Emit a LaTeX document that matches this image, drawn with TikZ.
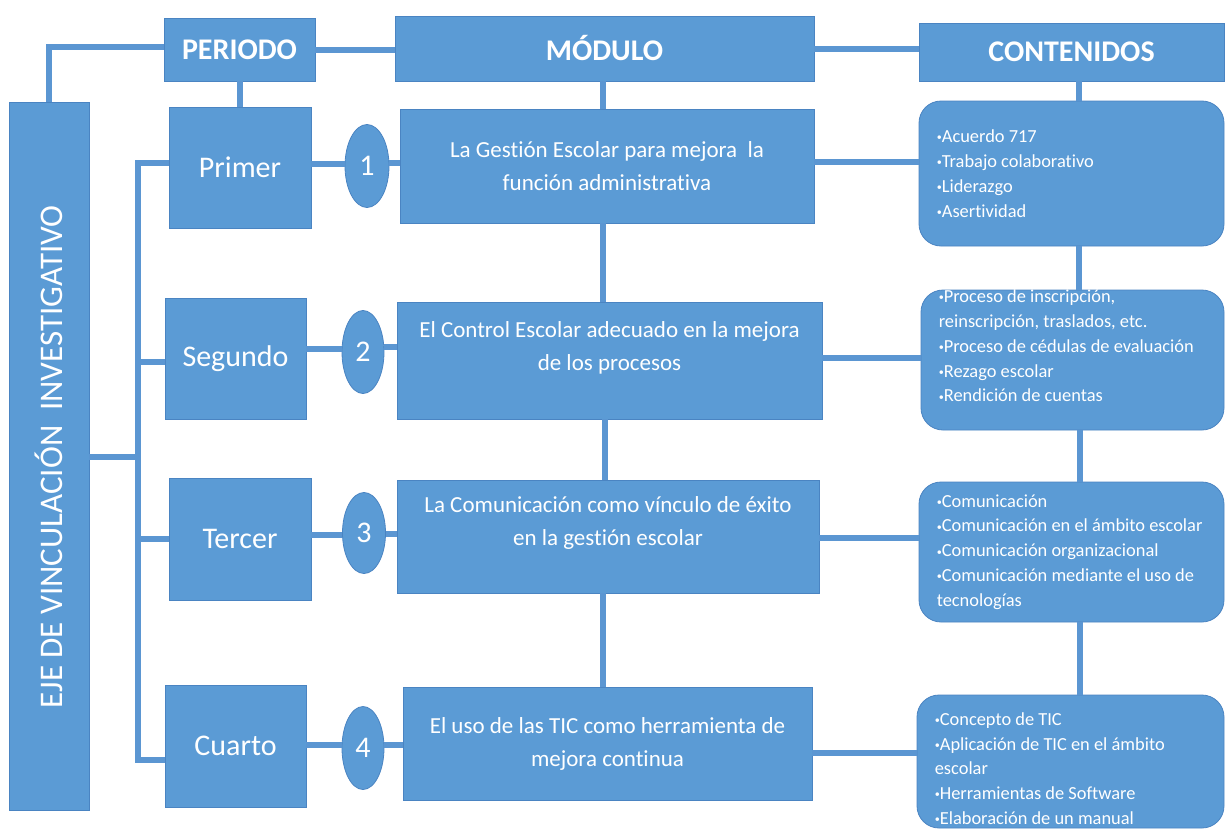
\documentclass[tikz,border=0pt]{standalone}
\usepackage{fontspec}
\setmainfont{Carlito}[Ligatures=NoCommon]
\usetikzlibrary{shapes.geometric}
\definecolor{boxblue}{HTML}{5B9BD5}
\definecolor{edgeblue}{HTML}{4A84C2}
\definecolor{lineblue}{HTML}{5B96D2}
\newcommand\smbul{\raisebox{0.2ex}{\scalebox{0.55}{•}}}
\begin{document}
\begin{tikzpicture}[x=1pt,y=-1pt,
  box/.style={draw=edgeblue, line width=0.8pt, fill=boxblue, text=white, inner sep=0pt, align=center},
  hdr/.style={box, font=\bfseries\fontsize{30}{34}\selectfont},
  per/.style={box, font=\fontsize{30}{34}\selectfont},
  num/.style={ellipse, draw=edgeblue, line width=0.8pt, fill=boxblue, text=white, inner sep=0pt, font=\fontsize{30}{30}\selectfont},
  modtext/.style={text=white, align=center, inner sep=0pt, font=\fontsize{23}{33}\selectfont},
  cont/.style={box, rounded corners=22pt},
  ctext/.style={text=white, align=left, inner sep=0pt, font=\fontsize{18.4}{24.8}\selectfont},
  ejetext/.style={text=white, inner sep=0pt, rotate=90, font=\fontsize{33}{36}\selectfont},
  conn/.style={draw=lineblue, line width=6pt}]
\fill[white] (0,0) rectangle (1226,830);
\useasboundingbox (0,0) rectangle (1226,830);

% left column
\node[box, minimum width=80pt, minimum height=708pt] (eje) at (49,456) {};
\node[ejetext] (ejet) at (49,457) {EJE DE VINCULACIÓN\ \ INVESTIGATIVO};

% headers
\node[hdr, minimum width=151pt, minimum height=63pt] (periodo) at (239.5,49.5) {PERIODO};
\node[hdr, minimum width=419pt, minimum height=65pt] (modulo) at (604.5,48.5) {MÓDULO};
\node[hdr, minimum width=305pt, minimum height=58pt] (contenidos) at (1071.5,52) {CONTENIDOS};

% periods
\node[per, minimum width=142pt, minimum height=121pt] (primer) at (240,167.5) {Primer};
\node[per, minimum width=141pt, minimum height=121pt] (segundo) at (235.5,358.5) {Segundo};
\node[per, minimum width=142pt, minimum height=122pt] (tercer) at (240,539) {Tercer};
\node[per, minimum width=141pt, minimum height=122pt] (cuarto) at (235.5,746) {Cuarto};

% numbers
\node[num, minimum width=44pt, minimum height=83pt] (c1) at (367,166) {1};
\node[num, minimum width=42pt, minimum height=83pt] (c2) at (363,352) {2};
\node[num, minimum width=43pt, minimum height=81pt] (c3) at (364,533) {3};
\node[num, minimum width=42pt, minimum height=83pt] (c4) at (363,748) {4};

% modules
\node[box, minimum width=414pt, minimum height=114pt,
  label={[modtext]center:{La Gestión Escolar para mejora~ la\\función administrativa}}] (m1) at (607,166) {};
\node[box, minimum width=425pt, minimum height=117pt,
  label={[modtext, yshift=13pt]center:{El Control Escolar adecuado en la mejora\\de los procesos}}] (m2) at (609.5,360.5) {};
\node[box, minimum width=422pt, minimum height=113pt,
  label={[modtext, yshift=14pt]center:{La Comunicación como vínculo de éxito\\en la gestión escolar}}] (m3) at (608,536.5) {};
\node[box, minimum width=409pt, minimum height=113pt,
  label={[modtext]center:{El uso de las TIC como herramienta de\\mejora continua}}] (m4) at (607.5,743.5) {};

% contents
\node[cont, minimum width=305pt, minimum height=145pt,
  label={[ctext, anchor=west, xshift=18pt]west:{\smbul Acuerdo 717\\\smbul Trabajo colaborativo\\\smbul Liderazgo\\\smbul Asertividad}}] (k1) at (1071.5,173.5) {};
\node[cont, minimum width=303pt, minimum height=140pt,
  label={[ctext, anchor=west, xshift=18pt, yshift=14pt]west:{\smbul Proceso de inscripción,\\reinscripción, traslados, etc.\\\smbul Proceso de cédulas de evaluación\\\smbul Rezago escolar\\\smbul Rendición de cuentas}}] (k2) at (1072.5,360) {};
\node[cont, minimum width=305pt, minimum height=140pt,
  label={[ctext, anchor=west, xshift=18pt]west:{\smbul Comunicación\\\smbul Comunicación en el ámbito escolar\\\smbul Comunicación organizacional\\\smbul Comunicación mediante el uso de\\tecnologías}}] (k3) at (1071.5,552) {};
\node[cont, minimum width=307pt, minimum height=133pt,
  label={[ctext, anchor=west, xshift=18pt, yshift=-7pt]west:{\smbul Concepto de TIC\\\smbul Aplicación de TIC en el ámbito\\escolar\\\smbul Herramientas de Software\\\smbul Elaboración de un manual}}] (k4) at (1070.5,761.5) {};

% bus coordinates
\coordinate (bt) at (138,163);
\coordinate (b2) at (138,362);
\coordinate (bm) at (138,457);
\coordinate (b3) at (138,539);
\coordinate (bb) at (138,760);

% header connectors
\draw[conn] (eje.north) |- ([yshift=2.5pt]periodo.west);
\draw[conn] (periodo.east) -- (periodo.east -| modulo.west);
\draw[conn] ([yshift=-0.5pt]modulo.east) -- ([yshift=-0.5pt]modulo.east -| contenidos.west);
\draw[conn] (periodo.south) -- (periodo.south |- primer.north);
\draw[conn] ([xshift=-1.5pt]modulo.south) -- ([xshift=-1.5pt]modulo.south |- m1.north);
\draw[conn] ([xshift=7.5pt]contenidos.south) -- ([xshift=7.5pt]contenidos.south |- k1.north);

% vertical chains
\draw[conn] ([xshift=-4pt]m1.south) -- ([xshift=-4pt]m1.south |- m2.north);
\draw[conn] ([xshift=-4.5pt]m2.south) -- ([xshift=-4.5pt]m2.south |- m3.north);
\draw[conn] ([xshift=-5pt]m3.south) -- ([xshift=-5pt]m3.south |- m4.north);
\draw[conn] ([xshift=7.5pt]k1.south) -- ([xshift=7.5pt]k1.south |- k2.north);
\draw[conn] ([xshift=7.5pt]k2.south) -- ([xshift=7.5pt]k2.south |- k3.north);
\draw[conn] ([xshift=8.5pt]k3.south) -- ([xshift=8.5pt]k3.south |- k4.north);

% bus
\draw[conn, line join=miter] (bt -| primer.west) -- (bt) -- (bb) -- (bb -| cuarto.west);
\draw[conn] (b2) -- (b2 -| segundo.west);
\draw[conn] (b3) -- (b3 -| tercer.west);
\draw[conn] (bm -| eje.east) -- (bm);

% row connectors
\draw[conn] ([yshift=4pt]primer.east) -- ([yshift=4pt]primer.east -| c1.west);
\draw[conn] ([yshift=3pt]c1.east) -- ([yshift=3pt]c1.east -| m1.west);
\draw[conn] ([yshift=4pt]m1.east) -- ([yshift=4pt]m1.east -| k1.west);
\draw[conn] ([yshift=10pt]segundo.east) -- ([yshift=10pt]segundo.east -| c2.west);
\draw[conn] ([yshift=5pt]c2.east) -- ([yshift=5pt]c2.east -| m2.west);
\draw[conn] ([yshift=3pt]m2.east) -- ([yshift=3pt]m2.east -| k2.west);
\draw[conn] ([yshift=4pt]tercer.east) -- ([yshift=4pt]tercer.east -| c3.west);
\draw[conn] ([yshift=-1pt]c3.east) -- ([yshift=-1pt]c3.east -| m3.west);
\draw[conn] ([yshift=-1.5pt]m3.east) -- ([yshift=-1.5pt]m3.east -| k3.west);
\draw[conn] ([yshift=1pt]cuarto.east) -- ([yshift=1pt]cuarto.east -| c4.west);
\draw[conn] ([yshift=3pt]c4.east) -- ([yshift=3pt]c4.east -| m4.west);
\draw[conn] ([yshift=-9.5pt]m4.east) -- ([yshift=-9.5pt]m4.east -| k4.west);
\end{tikzpicture}
\end{document}
